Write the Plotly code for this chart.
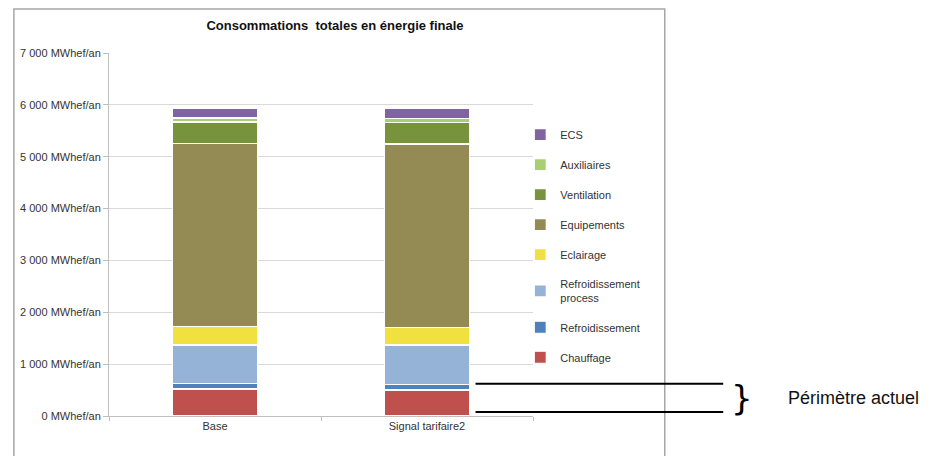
import plotly.graph_objects as go

categories = ["Base", "Signal tarifaire2"]

chauffage = [520, 500]
refroidissement = [100, 100]
refroid_process = [750, 770]
eclairage = [350, 330]
equipements = [3530, 3545]
ventilation = [420, 420]
auxiliaires = [75, 75]
ecs = [190, 190]

tick_vals = [0, 1000, 2000, 3000, 4000, 5000, 6000, 7000]
tick_text = ["0 MWhef/an", "1 000 MWhef/an", "2 000 MWhef/an", "3 000 MWhef/an",
             "4 000 MWhef/an", "5 000 MWhef/an", "6 000 MWhef/an", "7 000 MWhef/an"]

# bottom to top
series = [
    ("Chauffage", chauffage, "#C0504D"),
    ("Refroidissement", refroidissement, "#4F81BD"),
    ("Refroidissement<br>process", refroid_process, "#95B3D7"),
    ("Eclairage", eclairage, "#F0E040"),
    ("Equipements", equipements, "#948A54"),
    ("Ventilation", ventilation, "#77933C"),
    ("Auxiliaires", auxiliaires, "#A9CF74"),
    ("ECS", ecs, "#8064A2"),
]

fig = go.Figure()
for i, (name, vals, color) in enumerate(series):
    fig.add_trace(go.Bar(
        x=categories, y=vals, name=name, legendgroup=str(i),
        legendrank=1000 - i,
        marker=dict(color=color, line=dict(color="white", width=1.2)),
    ))

FONT = "Liberation Sans, Arial, sans-serif"

# page is offset by the 8px body margin, so margins are shifted accordingly
fig.update_layout(
    width=940, height=456,
    barmode="stack", bargap=0.6,
    plot_bgcolor="white", paper_bgcolor="white",
    margin=dict(l=97, r=415, t=45, b=48),
    font=dict(family=FONT, size=11, color="#333"),
    title=dict(text="<b>Consommations  totales en énergie finale</b>",
               x=327 / 940, xanchor="center", y=1 - 17 / 456, yanchor="middle",
               font=dict(size=13, color="#111")),
    legend=dict(x=0.97, y=0.815, xanchor="left", yanchor="top",
                traceorder="grouped", tracegroupgap=11,
                bgcolor="rgba(0,0,0,0)",
                font=dict(size=11, color="#333"), itemwidth=30),
    showlegend=True,
)

fig.update_yaxes(range=[0, 7000], tickvals=tick_vals, ticktext=tick_text,
                 showgrid=True, gridcolor="#D9D9D9", gridwidth=1,
                 showline=True, linecolor="#BFBFBF", linewidth=1,
                 ticks="outside", ticklen=5, tickcolor="#BFBFBF",
                 zeroline=False, fixedrange=True)
fig.update_xaxes(showline=True, linecolor="#BFBFBF", linewidth=1,
                 ticks="outside", tickson="boundaries", ticklen=4, tickcolor="#BFBFBF",
                 tickfont=dict(size=11), fixedrange=True)

# outer frame of the chart
fig.add_shape(type="rect", xref="paper", yref="paper",
              x0=(9 - 105) / 428, x1=(666 - 105) / 428,
              y0=-0.2, y1=(416 - 9) / 363,
              line=dict(color="#A6A6A6", width=1.5), layer="below")

# "Périmètre actuel" markers
top_level = chauffage[0] + refroidissement[0]
for yv in [75, top_level]:
    fig.add_shape(type="line", xref="paper", yref="y",
                  x0=(475 - 105) / 428, x1=(725 - 105) / 428, y0=yv, y1=yv,
                  line=dict(color="black", width=2))

fig.add_annotation(xref="paper", yref="y", x=(757 - 105) / 428, y=(75 + top_level) / 2,
                   text="}", showarrow=False, font=dict(size=34, color="black", family="DejaVu Sans"))
fig.add_annotation(xref="paper", yref="y", x=(788 - 105) / 428, y=(75 + top_level) / 2,
                   xanchor="left", text="Périmètre actuel", showarrow=False,
                   font=dict(size=18, color="#111"))

fig.write_html("out.html")
